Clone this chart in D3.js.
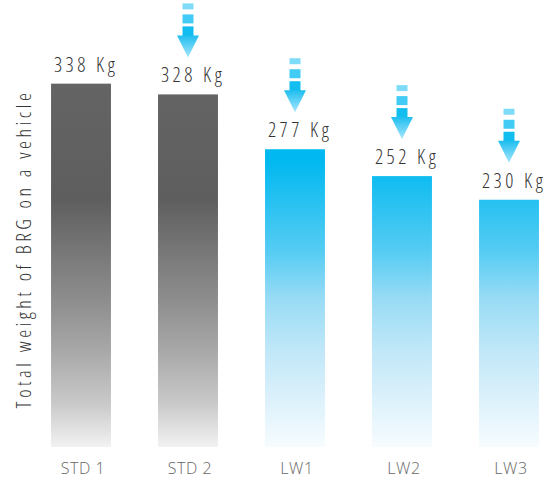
<!DOCTYPE html>
<html>
<head>
<meta charset="utf-8">
<script src="https://cdn.jsdelivr.net/npm/d3@7"></script>
<style>
  body { margin: 0; background: #fff; }
  svg { display: block; }
  text { font-family: "Open Sans", "DejaVu Sans", sans-serif; font-weight: 300; font-stretch: 75%; }
  text.cat { font-stretch: 100%; }
</style>
</head>
<body>
<div id="chart"></div>
<script>
// chart data
var categories = ["STD 1", "STD 2", "LW1", "LW2", "LW3"];
var weights    = [338, 328, 277, 252, 230];
var families   = ["std", "std", "lw", "lw", "lw"];
var lighter    = [false, true, true, true, true];   // arrow above bar
var unit       = "Kg";
var yTitle     = "Total weight of BRG on a vehicle";

var width = 551, height = 478;

var svg = d3.select("#chart").append("svg")
	.attr("width", width)
	.attr("height", height);

// scales
var x = d3.scaleBand()
	.domain(categories)
	.range([27.5, 562.5])
	.paddingInner(0.44)
	.paddingOuter(0.22);

var y = d3.scaleLinear()
	.domain([0, 400])
	.range([447, 17]);

// gradients, shared across bars (user space)
var defs = svg.append("defs");

function addGradient(id, y1, y2, stops)
{
	var g = defs.append("linearGradient")
		.attr("id", id)
		.attr("gradientUnits", "userSpaceOnUse")
		.attr("x1", 0).attr("x2", 0)
		.attr("y1", y1).attr("y2", y2);
	stops.forEach(function (s) {
		g.append("stop").attr("offset", s[0]).attr("stop-color", s[1]);
	});
}

addGradient("grad-std", y(338), y(0), [
	[0, "#646464"], [0.32, "#5e5e5e"], [0.46, "#777777"], [0.6, "#8e8e8e"],
	[0.74, "#a9a9a9"], [0.88, "#c9c9c9"], [1, "#f2f2f2"]
]);
addGradient("grad-lw", 150, y(0), [
	[0, "#00b9f0"], [0.04, "#02b9f0"], [0.34, "#55ccf3"], [0.5, "#98dbf5"],
	[0.67, "#bfe7f8"], [0.84, "#dcf1fb"], [1, "#f7fcfe"]
]);
addGradient("grad-arrow", -54, 0, [
	[0, "#7fdcf8"], [0.3, "#3fcaf3"], [0.45, "#10bcef"], [0.6, "#20bff0"], [1, "#a8e6fb"]
]);

// bars
svg.selectAll("rect.bar")
	.data(weights)
	.enter().append("rect")
	.attr("class", "bar")
	.attr("x", function (d, i) { return x(categories[i]); })
	.attr("y", function (d) { return y(d); })
	.attr("width", x.bandwidth())
	.attr("height", function (d) { return y(0) - y(d); })
	.attr("fill", function (d, i) { return "url(#grad-" + families[i] + ")"; });

// value labels
svg.selectAll("text.value")
	.data(weights)
	.enter().append("text")
	.attr("class", "value")
	.attr("x", function (d, i) { return x(categories[i]) + x.bandwidth() / 2 + 5; })
	.attr("y", function (d) { return y(d) - 12; })
	.attr("text-anchor", "middle")
	.attr("fill", "#333")
	.style("font-size", "20px")
	.style("letter-spacing", "3.5px")
	.text(function (d) { return d + " " + unit; });

// arrows above the lighter bars
var arrows = svg.selectAll("g.arrow")
	.data(weights.filter(function (d, i) { return lighter[i]; }))
	.enter().append("g")
	.attr("class", "arrow")
	.attr("transform", function (d) {
		var i = weights.indexOf(d);
		return "translate(" + (x(categories[i]) + x.bandwidth() / 2) + "," + (y(d) - 37) + ")";
	});

arrows.append("rect").attr("x", -5.5).attr("y", -54).attr("width", 11).attr("height", 6).attr("fill", "#7fdcf8");
arrows.append("rect").attr("x", -5.5).attr("y", -43).attr("width", 11).attr("height", 9).attr("fill", "#42cbf4");
arrows.append("rect").attr("x", -5.5).attr("y", -31).attr("width", 11).attr("height", 10).attr("fill", "#12bdef");
arrows.append("path")
	.attr("d", "M-11,-22L11,-22L0,0Z")
	.attr("fill", "url(#grad-arrow)");

// category labels
svg.selectAll("text.cat")
	.data(categories)
	.enter().append("text")
	.attr("class", "cat")
	.attr("x", function (d) { return x(d) + x.bandwidth() / 2 + 2; })
	.attr("y", 474)
	.attr("text-anchor", "middle")
	.attr("fill", "#666")
	.style("font-size", "16px")
	.style("letter-spacing", "0.6px")
	.text(function (d) { return d; });

// y axis title
svg.append("text")
	.attr("transform", "translate(31,249) rotate(-90)")
	.attr("text-anchor", "middle")
	.attr("fill", "#333")
	.style("font-size", "20px")
	.style("letter-spacing", "3.5px")
	.text(yTitle);
</script>
</body>
</html>
